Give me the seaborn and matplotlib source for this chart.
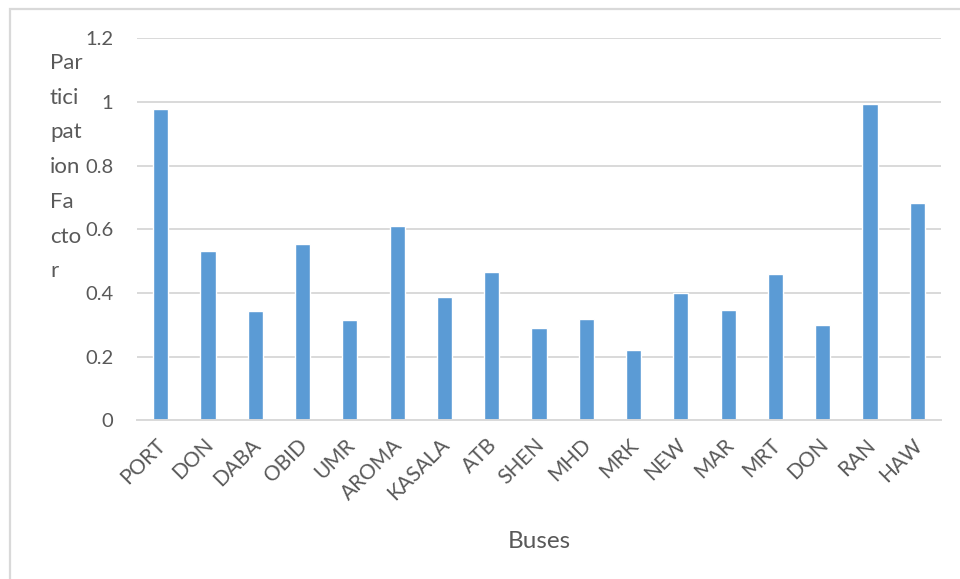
import matplotlib
matplotlib.use("Agg")
import matplotlib.pyplot as plt
import matplotlib.transforms as mtransforms
import seaborn as sns
import pandas as pd
from matplotlib.patches import Rectangle

buses = ["PORT", "DON", "DABA", "OBID", "UMR", "AROMA", "KASALA", "ATB", "SHEN",
         "MHD", "MRK", "NEW", "MAR", "MRT", "DON", "RAN", "HAW"]
participation = [0.977, 0.532, 0.343, 0.554, 0.315, 0.610, 0.387, 0.466, 0.290,
                 0.318, 0.221, 0.400, 0.347, 0.460, 0.299, 0.994, 0.683]
y_ticks = [0, 0.2, 0.4, 0.6, 0.8, 1.0, 1.2]
y_tick_labels = ["0", "0.2", "0.4", "0.6", "0.8", "1", "1.2"]

sns.set_theme(style="white")
plt.rcParams["font.family"] = ["Lato", "DejaVu Sans"]

TEXT = "#595959"
GRID = "#D9D9D9"
BAR = "#5B9BD5"

df = pd.DataFrame({"pos": list(range(len(buses))), "value": participation})

fig = plt.figure(figsize=(9.6, 5.79), dpi=100)
ax = fig.add_axes([137 / 960, 1 - 420.3 / 579, (941 - 137) / 960, (420.3 - 38.3) / 579])

sns.barplot(data=df, x="pos", y="value", color=BAR, saturation=1, width=0.32, ax=ax)

ax.set_xlim(-0.5, len(buses) - 0.5)
ax.set_ylim(0, 1.2)
ax.set_yticks(y_ticks)
ax.set_yticklabels(y_tick_labels)
ax.set_xticks(range(len(buses)))
ax.set_xticklabels(buses, rotation=45, ha="right", rotation_mode="anchor")

ax.grid(axis="y", color=GRID, linewidth=1.4)
ax.set_axisbelow(True)
for side in ["left", "right", "top"]:
    ax.spines[side].set_visible(False)
ax.spines["bottom"].set_color(GRID)
ax.spines["bottom"].set_linewidth(1.4)
ax.tick_params(axis="y", length=0, colors=TEXT, labelsize=14.5, pad=17)
ax.tick_params(axis="x", length=0, colors=TEXT, labelsize=15, pad=9)

# nudge the rotated bus names slightly left
shift = mtransforms.ScaledTranslation(-5 / 100, -2 / 100, fig.dpi_scale_trans)
for lbl in ax.get_xticklabels():
    lbl.set_transform(lbl.get_transform() + shift)

ax.set_ylabel("")
ax.set_xlabel("")
fig.text(539 / 960, 1 - 542 / 579, "Buses", ha="center", va="center",
         color=TEXT, fontsize=17.5)

fig.text(50 / 960, 1 - 53 / 579, "Par\ntici\npat\nion\nFa\ncto\nr",
         ha="left", va="top", color=TEXT, fontsize=16, linespacing=1.92)

# chart frame
fig.patches.append(Rectangle((10 / 960, -0.1), 1.2, 1 - 9 / 579 + 0.1,
                             transform=fig.transFigure, fill=False,
                             edgecolor=GRID, linewidth=1.6))

fig.savefig("out.png", dpi=100)
